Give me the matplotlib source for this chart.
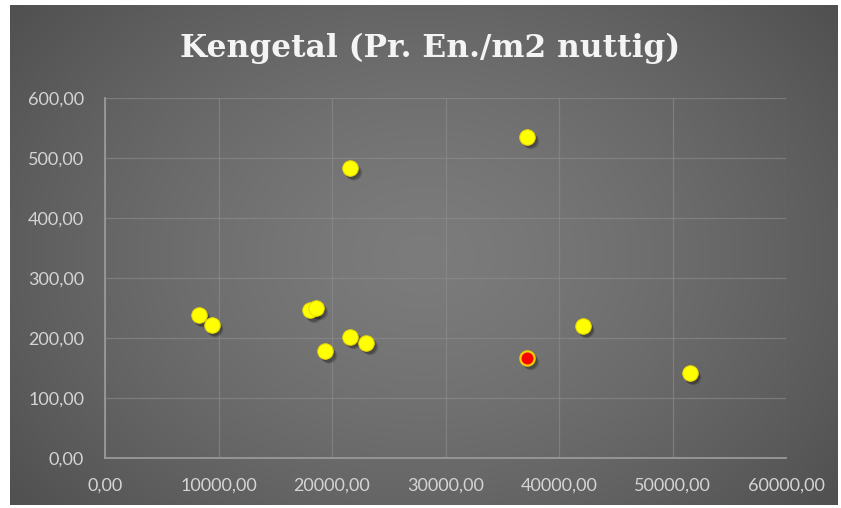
import numpy as np
import matplotlib.pyplot as plt
import matplotlib.transforms as mtransforms
from matplotlib.ticker import FuncFormatter

# Kengetal per project: oppervlakte (x) en Pr. En./m2 nuttig (y)
opp = [8300, 9400, 18100, 18600, 19400, 21600, 21600, 23000, 37200, 42100, 51500]
kengetal = [238, 222, 246, 250, 178, 483, 202, 192, 535, 220, 142]
# het gemarkeerde project (rood)
opp_eigen = [37200]
kengetal_eigen = [167]

title = "Kengetal (Pr. En./m2 nuttig)"


def comma_fmt(v, pos):
    return ("%.2f" % v).replace(".", ",")


fig = plt.figure(figsize=(8.41, 5.08), dpi=100)
fig.patch.set_facecolor("white")

# donkere achtergrond met radiaal verloop
bg = fig.add_axes([10 / 841, 3 / 508, 828 / 841, 500 / 508])
bg.set_axis_off()
yy, xx = np.mgrid[-1:1:300j, -1:1:500j]
r = np.sqrt((xx * 0.95) ** 2 + (yy * 0.75) ** 2)
shade = 0.485 - 0.17 * np.clip(r / 1.2, 0, 1) ** 1.4
bg.imshow(np.dstack([shade, shade, shade]), aspect="auto", extent=[0, 1, 0, 1],
          interpolation="bicubic")
bg.set_zorder(0)

ax = fig.add_axes([105 / 841, 50 / 508, 681 / 841, 360 / 508])
ax.set_zorder(1)
ax.patch.set_alpha(0)

ax.set_xlim(0, 60000)
ax.set_ylim(0, 600)
ax.set_xticks(np.arange(0, 60001, 10000))
ax.set_yticks(np.arange(0, 601, 100))
ax.xaxis.set_major_formatter(FuncFormatter(comma_fmt))
ax.yaxis.set_major_formatter(FuncFormatter(comma_fmt))
ax.grid(True, color="#8e8e8e", linewidth=0.9, alpha=0.6)
ax.set_axisbelow(True)
for side in ["top", "right"]:
    ax.spines[side].set_visible(False)
for side in ["left", "bottom"]:
    ax.spines[side].set_color("#999999")
    ax.spines[side].set_linewidth(1.3)
ax.tick_params(length=0, labelcolor="#d4d4d4", labelsize=13)
ax.tick_params(axis="y", pad=15)
ax.tick_params(axis="x", pad=14)
for lbl in ax.get_xticklabels() + ax.get_yticklabels():
    lbl.set_family("Lato")

# zachte schaduw onder de punten
for dx, dy, a in [(2.5, -3.0, 0.12), (2.0, -2.5, 0.14), (1.5, -2.0, 0.14)]:
    tr = mtransforms.offset_copy(ax.transData, fig=fig, x=dx, y=dy, units="points")
    ax.scatter(opp + opp_eigen, kengetal + kengetal_eigen, s=125, color="black",
               alpha=a, linewidths=0, transform=tr, zorder=2)

ax.scatter(opp, kengetal, s=125, color="#ffff00", edgecolors="#e8d800",
           linewidths=0.7, zorder=3)
ax.scatter(opp_eigen, kengetal_eigen, s=105, color="#ff0000", edgecolors="#f5d000",
           linewidths=1.6, zorder=3)

fig.text(430 / 841, 1 - 48 / 508, title, color="#f4f4f4", fontsize=22.5,
         fontweight="bold", family="DejaVu Serif",
         ha="center", va="center")

fig.savefig("out.png", dpi=100, facecolor=fig.get_facecolor())
